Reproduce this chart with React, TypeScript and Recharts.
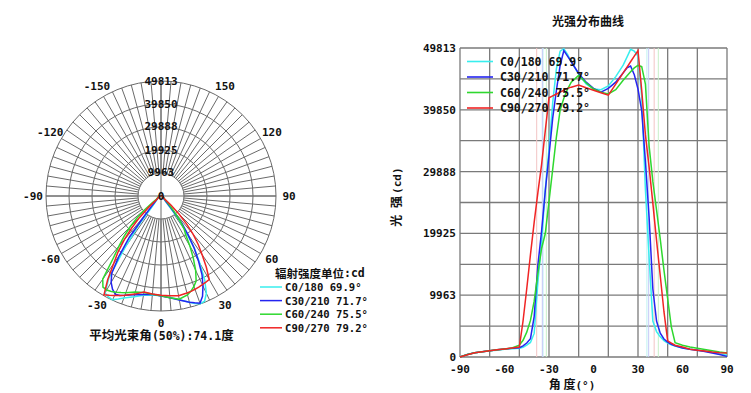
import React from 'react'
import {
  RadarChart,
  Radar,
  PolarGrid,
  PolarAngleAxis,
  PolarRadiusAxis,
  LineChart,
  Line,
  XAxis,
  YAxis,
  CartesianGrid,
  ReferenceLine,
  Legend,
} from 'recharts'

// gamma angles (deg) shared by all four C-planes
const gammas = [
  -90, -85, -80, -75, -70, -65, -60, -55, -50, -47.5, -45, -42.5, -40, -37.5, -35, -32.5, -30, -27.5, -25,
  -22.5, -20, -17.5, -15, -10, -5, 0, 5, 10, 15, 20, 22.5, 25, 27.5, 30, 32.5, 35, 37.5, 40, 42.5, 45, 47.5,
  50, 52.5, 55, 60, 65, 70, 75, 80, 85, 90,
]

const c0 = [
  0, 400, 700, 850, 1000, 1100, 1250, 1350, 1400, 1550, 1900, 2350, 3800, 12000, 18500, 27000, 33500, 41000,
  46500, 49300, 49700, 48800, 47600, 45600, 44000, 43200, 43100, 43700, 45200, 47050, 48300, 49600, 49300,
  48500, 42000, 27000, 16000, 5800, 4100, 3250, 2650, 2250, 1950, 1750, 1450, 1250, 1100, 950, 750, 500, 300,
]
const c30 = [
  0, 400, 700, 850, 1000, 1150, 1300, 1400, 1500, 1800, 2250, 2950, 6500, 14800, 20300, 26800, 32500, 38500,
  43000, 47000, 49400, 48500, 47600, 45700, 44300, 43300, 42700, 43300, 44300, 45800, 46600, 46900, 45500,
  43200, 39700, 31500, 22500, 11000, 5800, 3850, 2900, 2400, 2050, 1800, 1450, 1250, 1100, 900, 650, 400, 100,
]
const c60 = [
  0, 400, 700, 850, 1000, 1150, 1300, 1450, 1900, 2700, 4000, 5900, 9000, 13500, 17500, 19900, 25100, 30300,
  35500, 39800, 41700, 43200, 44300, 45400, 44200, 43200, 42700, 42400, 43100, 44600, 45300, 46000, 46600,
  47000, 46800, 44000, 34000, 28300, 23700, 19000, 14000, 9400, 4800, 2300, 1900, 1600, 1400, 1200, 1000, 800,
  650,
]
const c90 = [
  0, 350, 700, 850, 1000, 1150, 1300, 1450, 1600, 5800, 11000, 16500, 21700, 26500, 31000, 36500, 41800, 42100,
  42400, 42700, 43000, 43300, 43500, 43850, 43400, 43000, 42600, 42200, 44000, 45800, 46700, 47600, 48500,
  49400, 43000, 35800, 30600, 24800, 18800, 13100, 7300, 2600, 2250, 1900, 1600, 1250, 1100, 950, 800, 700, 650,
]

const seriesKeys = ['c0', 'c30', 'c60', 'c90']
const seriesNames = ['C0/180', 'C30/210', 'C60/240', 'C90/270']
const beamAngles = [69.9, 71.7, 75.5, 79.2]
const seriesColors = ['#38eeee', '#2424f0', '#2ed82e', '#f02424']
const beamColors = ['#bff2f2', '#c4c8f6', '#c8f0c8', '#f2c4c4']
const beamLeft = [-34, -34.5, -31.8, -38.3]
const beamRight = [36, 37.2, 43.7, 40.9]

const maxI = 49813
const intensityTicks = [0, 9963, 19925, 29888, 39850, 49813]
const intensityGrid = [0, 4981, 9963, 14944, 19925, 24906, 29888, 34869, 39850, 44831, 49813]
const gammaTicks = [-90, -60, -30, 0, 30, 60, 90]
const gammaGrid = [-90, -80, -70, -60, -50, -40, -30, -20, -10, 0, 10, 20, 30, 40, 50, 60, 70, 80, 90]
const polarTicks = [-150, -120, -90, -60, -30, 0, 30, 60, 90, 120, 150]
const spokeTicks = Array.from({ length: 72 }, (_, i) => -180 + i * 5)

const rows = gammas.map((g, i) => ({ g, c0: c0[i], c30: c30[i], c60: c60[i], c90: c90[i] }))
// polar view is drawn mirrored: left side holds positive gamma
const zero = { c0: 0, c30: 0, c60: 0, c90: 0 }
const polarRows = [
  { a: -180, ...zero },
  ...rows.map(r => ({ a: -r.g, c0: r.c0, c30: r.c30, c60: r.c60, c90: r.c90 })).reverse(),
  { a: 180, ...zero },
]

const MONO = '"DejaVu Sans Mono", monospace'
const CJK = '"Noto Sans CJK SC", sans-serif'
const PCX = 153
const PCY = 188
const R = 115

const AngleTick = (props: any) => {
  const { x, y, payload } = props
  const dx = x - PCX
  const dy = y - PCY
  const d = Math.hypot(dx, dy) || 1
  return (
    <text
      x={PCX + (dx / d) * 128}
      y={PCY + (dy / d) * 127}
      textAnchor="middle"
      dominantBaseline="central"
      fontFamily={MONO}
      fontWeight="bold"
      fontSize={11}
      fill="#111"
    >
      {payload.value}
    </text>
  )
}

const RadiusTick = (props: any) => {
  const { x, y, payload } = props
  return (
    <text x={x} y={y} textAnchor="middle" dominantBaseline="central" fontFamily={MONO} fontWeight="bold" fontSize={11} fill="#111">
      {payload.value}
    </text>
  )
}

const PolarKey = () => (
  <svg width={130} height={72}>
    <text x={17} y={10} dominantBaseline="central" fontSize={11.5} fill="#111">
      <tspan fontFamily={CJK} fontWeight="bold">辐射强度单位</tspan>
      <tspan fontFamily={MONO} fontWeight="bold">:cd</tspan>
    </text>
    {seriesNames.map((n, i) => (
      <g key={n}>
        <line x1={2} x2={24} y1={24 + i * 13.6} y2={24 + i * 13.6} stroke={seriesColors[i]} strokeWidth={1.5} />
        <text x={27} y={24 + i * 13.6} dominantBaseline="central" fontFamily={MONO} fontWeight="bold" fontSize={10.6} fill="#111">
          {`${n} ${beamAngles[i]}°`}
        </text>
      </g>
    ))}
  </svg>
)

const CurveKey = () => (
  <svg width={140} height={64}>
    {seriesNames.map((n, i) => (
      <g key={n}>
        <line x1={4} x2={30} y1={8.5 + i * 15.5} y2={8.5 + i * 15.5} stroke={seriesColors[i]} strokeWidth={1.6} />
        <text x={37} y={8.5 + i * 15.5} dominantBaseline="central" fontFamily={MONO} fontWeight="bold" fontSize={11.5} fill="#111">
          {`${n} ${beamAngles[i]}°`}
        </text>
      </g>
    ))}
  </svg>
)

export default function App() {
  return (
    <div style={{ position: 'relative', width: 735, height: 385, fontFamily: MONO, color: '#111' }}>
      {/* polar grid: spokes start at the first ring */}
      <div style={{ position: 'absolute', left: 0, top: 0 }}>
        <RadarChart width={370} height={345} data={polarRows} cx={PCX} cy={PCY} innerRadius={23} outerRadius={R} startAngle={-270} endAngle={90}>
          <PolarAngleAxis dataKey="a" type="number" domain={[-180, 180]} ticks={spokeTicks} tick={false} axisLine={false} tickLine={false} />
          <PolarRadiusAxis domain={[9963, maxI]} ticks={intensityTicks.slice(1)} allowDataOverflow tick={false} axisLine={false} tickLine={false} />
          <PolarGrid gridType="circle" stroke="#6a6a6a" strokeWidth={1} />
        </RadarChart>
      </div>
      <div style={{ position: 'absolute', left: 0, top: 0 }}>
        <RadarChart width={370} height={345} data={polarRows} cx={PCX} cy={PCY} innerRadius={0} outerRadius={R} startAngle={-270} endAngle={90}>
          <PolarGrid gridType="circle" polarAngles={[0, 90, 180, 270]} polarRadius={[]} stroke="#6a6a6a" strokeWidth={1} />
          <PolarAngleAxis dataKey="a" type="number" domain={[-180, 180]} ticks={polarTicks} tick={<AngleTick />} axisLine={false} tickLine={false} />
          <PolarRadiusAxis angle={90} domain={[0, maxI]} ticks={intensityTicks} tick={<RadiusTick />} axisLine={false} tickLine={false} />
          {seriesKeys.map((k, i) => (
            <Radar key={k} dataKey={k} name={seriesNames[i]} stroke={seriesColors[i]} strokeWidth={1.5} fill="none" fillOpacity={0} dot={false} isAnimationActive={false} />
          ))}
          <Legend layout="horizontal" verticalAlign="middle" align="center" content={() => <PolarKey />} wrapperStyle={{ left: 250, top: 255, width: 130 }} />
        </RadarChart>
      </div>
      <div style={{ position: 'absolute', left: 73, top: 319, width: 161, textAlign: 'center', fontSize: 12.5, lineHeight: '15px', whiteSpace: 'nowrap' }}>
        <span style={{ fontFamily: CJK, fontWeight: 'bold' }}>平均光束角</span>
        <span style={{ fontFamily: MONO, fontWeight: 'bold', fontSize: 11.5 }}>(50%):74.1</span>
        <span style={{ fontFamily: CJK, fontWeight: 'bold' }}>度</span>
      </div>

      <div style={{ position: 'absolute', left: 530, top: 5, width: 100, textAlign: 'center', fontFamily: CJK, fontWeight: 'bold', fontSize: 12, lineHeight: '16px' }}>
        光强分布曲线
      </div>
      <div style={{ position: 'absolute', left: 349, top: 180, width: 80, textAlign: 'center', fontSize: 12, lineHeight: '16px', transform: 'rotate(-90deg)', whiteSpace: 'nowrap' }}>
        <span style={{ fontFamily: CJK, fontWeight: 'bold', letterSpacing: 2 }}>光 强</span>
        <span style={{ fontFamily: MONO, fontWeight: 'bold', fontSize: 11 }}>(cd)</span>
      </div>
      <div style={{ position: 'absolute', left: 524, top: 368, width: 80, textAlign: 'center', fontSize: 12, lineHeight: '16px', whiteSpace: 'nowrap' }}>
        <span style={{ fontFamily: CJK, fontWeight: 'bold' }}>角 度</span>
        <span style={{ fontFamily: MONO, fontWeight: 'bold', fontSize: 11 }}>(°)</span>
      </div>

      <div style={{ position: 'absolute', left: 370, top: 0 }}>
        <LineChart width={365} height={385} data={rows} margin={{ top: 40, right: 16, left: 0, bottom: 0 }}>
          <CartesianGrid horizontalValues={intensityGrid} verticalValues={gammaGrid} stroke="#7a7a7a" strokeWidth={1.3} />
          <XAxis
            dataKey="g"
            type="number"
            domain={[-90, 90]}
            ticks={gammaTicks}
            height={36}
            axisLine={false}
            tickLine={false}
            tickSize={0}
            tickMargin={8}
            tick={{ fontFamily: MONO, fontWeight: 'bold', fontSize: 11, fill: '#111' }}
          />
          <YAxis
            type="number"
            domain={[0, maxI]}
            ticks={intensityTicks}
            width={82}
            axisLine={false}
            tickLine={false}
            tickSize={0}
            tickMargin={4}
            tick={{ fontFamily: MONO, fontWeight: 'bold', fontSize: 11, fill: '#111' }}
          />
          {seriesKeys.map((k, i) => (
            <ReferenceLine key={'l' + k} x={beamLeft[i]} stroke={beamColors[i]} strokeWidth={1} />
          ))}
          {seriesKeys.map((k, i) => (
            <ReferenceLine key={'r' + k} x={beamRight[i]} stroke={beamColors[i]} strokeWidth={1} />
          ))}
          {seriesKeys.map((k, i) => (
            <Line key={k} type="linear" dataKey={k} name={seriesNames[i]} stroke={seriesColors[i]} strokeWidth={1.5} dot={false} isAnimationActive={false} />
          ))}
          <Legend layout="horizontal" verticalAlign="middle" align="center" content={() => <CurveKey />} wrapperStyle={{ left: 85, top: 45, width: 140 }} />
        </LineChart>
      </div>
    </div>
  )
}
